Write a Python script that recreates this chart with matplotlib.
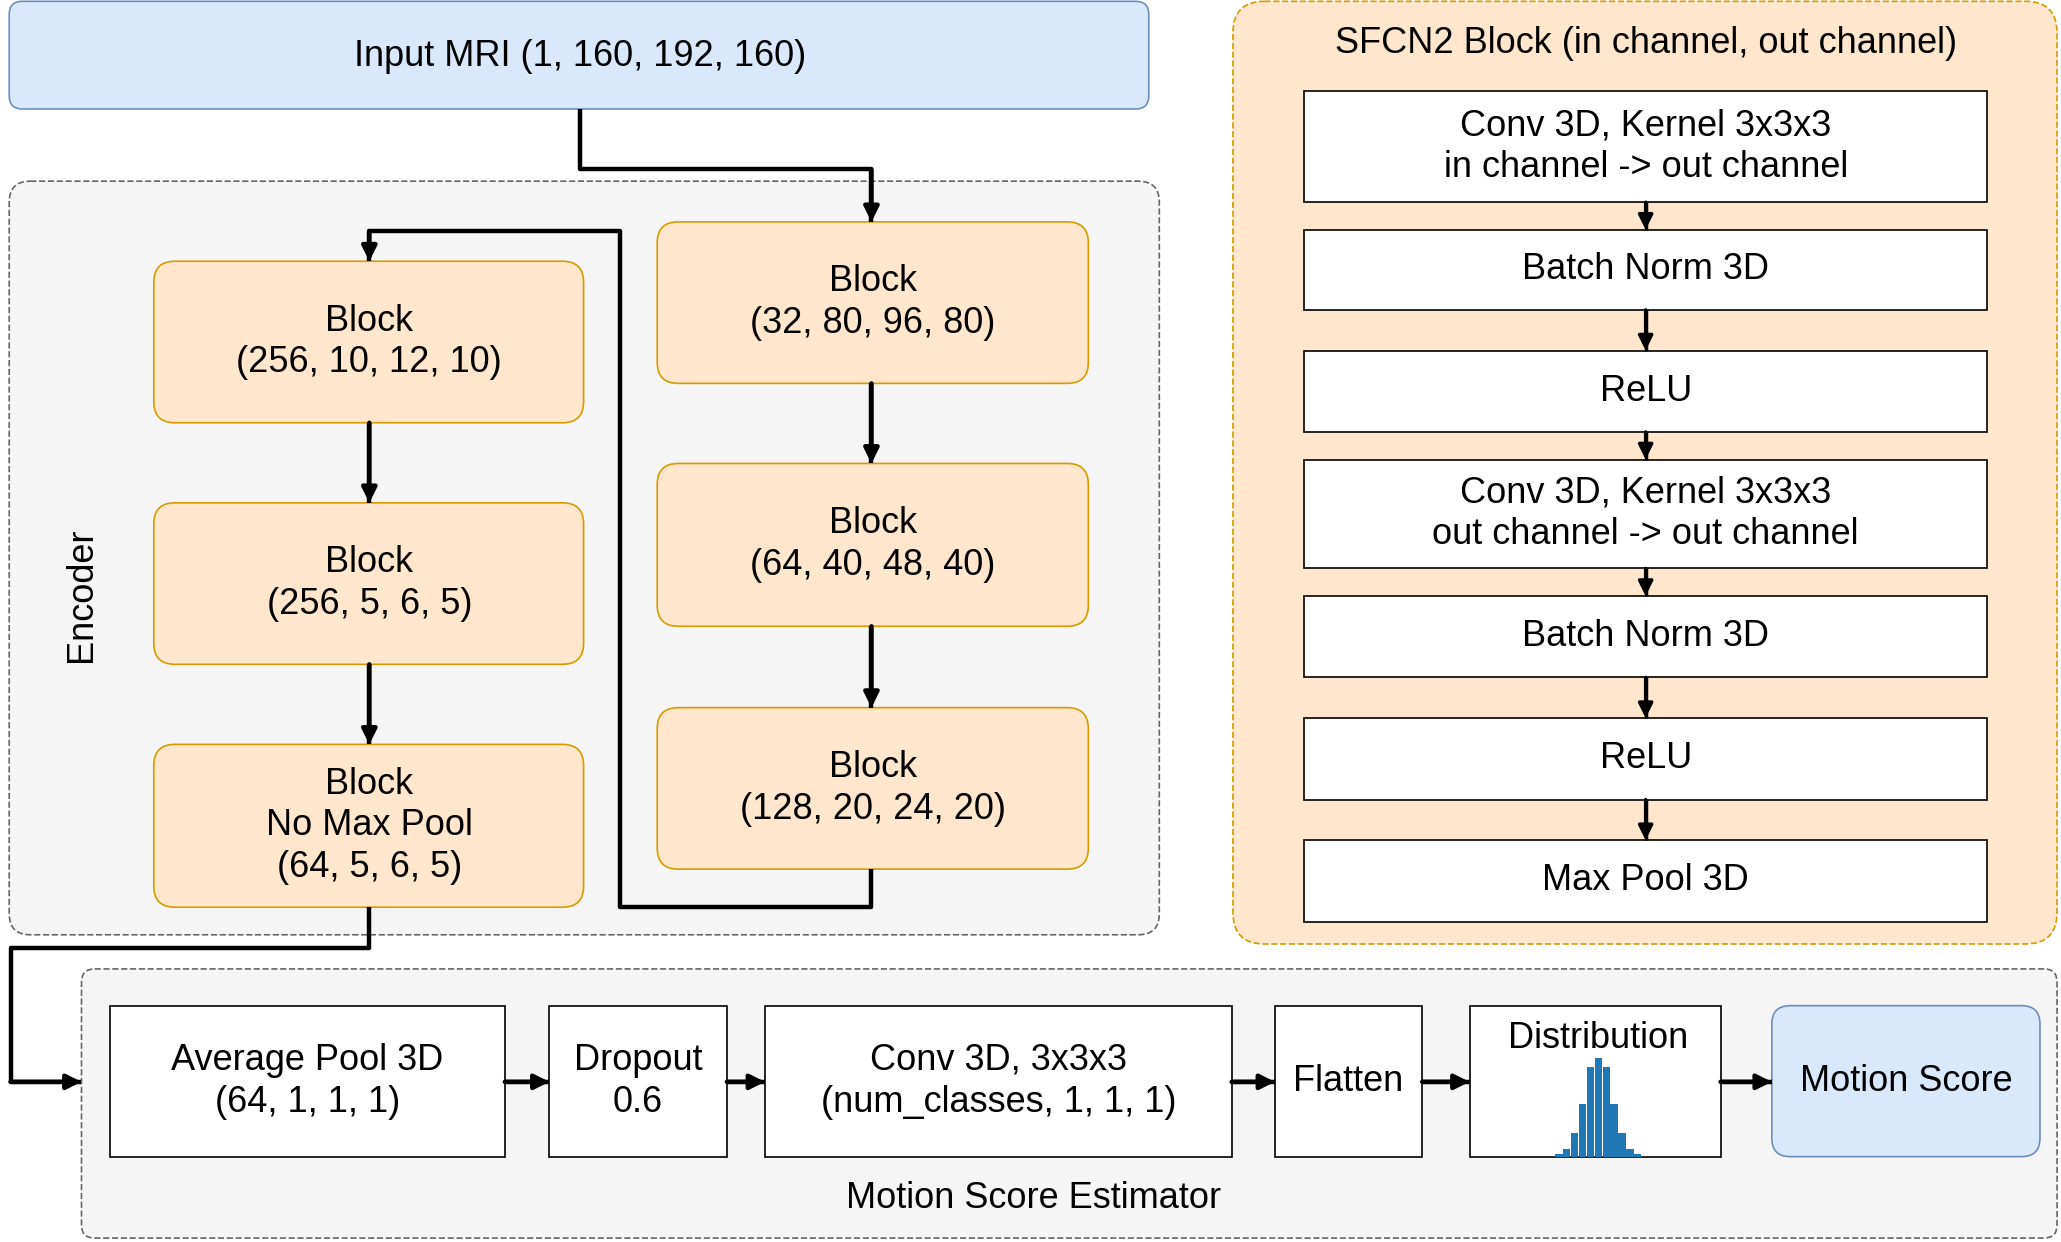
import matplotlib.pyplot as plt
from matplotlib.patches import FancyBboxPatch, Rectangle

plt.rcParams['font.family'] = ['Liberation Sans', 'DejaVu Sans']

input_label = "Input MRI (1, 160, 192, 160)"
left_blocks = ["Block\n(256, 10, 12, 10)", "Block\n(256, 5, 6, 5)", "Block\nNo Max Pool\n(64, 5, 6, 5)"]
right_blocks = ["Block\n(32, 80, 96, 80)", "Block\n(64, 40, 48, 40)", "Block\n(128, 20, 24, 20)"]
estimator_steps = ["Average Pool 3D\n(64, 1, 1, 1)", "Dropout\n0.6", "Conv 3D, 3x3x3\n(num_classes, 1, 1, 1)", "Flatten"]
sfcn_steps = ["Conv 3D, Kernel 3x3x3\nin channel -> out channel", "Batch Norm 3D", "ReLU",
              "Conv 3D, Kernel 3x3x3\nout channel -> out channel", "Batch Norm 3D", "ReLU", "Max Pool 3D"]
dist_values = [2, 6, 18, 40, 68, 75, 68, 40, 18, 6, 2]

FS = 26
BLUE, BLUE_E = '#dae8fc', '#6c8ebf'
ORANGE, ORANGE_E = '#ffe6cc', '#d79b00'
GREY, GREY_E = '#f5f5f5', '#666666'

fig = plt.figure(figsize=(20.61, 12.42), dpi=100)
ax = fig.add_axes([0, 0, 1, 1])
ax.set_xlim(0, 1568)
ax.set_ylim(946, 0)
ax.axis('off')


def rbox(x0, y0, x1, y1, fc, ec, r=14, ls='-', lw=1.2, z=1):
    ax.add_patch(FancyBboxPatch((x0 + r, y0 + r), x1 - x0 - 2 * r, y1 - y0 - 2 * r,
                                boxstyle=f"round,pad={r}", fc=fc, ec=ec, ls=ls, lw=lw, zorder=z))


def sbox(x0, y0, x1, y1, text, dy=0):
    ax.add_patch(Rectangle((x0, y0), x1 - x0, y1 - y0, fc='white', ec='black', lw=1.2, zorder=3))
    if text:
        ax.text((x0 + x1) / 2, (y0 + y1) / 2 + dy, text, ha='center', va='center',
                fontsize=FS, zorder=4, linespacing=1.25)


def path(pts, lw=3.2):
    xs, ys = zip(*pts)
    ax.plot(xs[:-1] + (xs[-1],), ys, color='black', lw=lw, zorder=5, solid_capstyle='butt')
    ax.annotate('', xy=pts[-1], xytext=pts[-2],
                arrowprops=dict(arrowstyle='-|>', color='black', lw=lw, mutation_scale=22,
                                shrinkA=0, shrinkB=0), zorder=6)


# containers
rbox(7, 1, 874, 83, BLUE, BLUE_E, r=10)
ax.text(441, 43, input_label, ha='center', va='center', fontsize=FS)
rbox(7, 138, 882, 712, GREY, GREY_E, r=16, ls='--')
ax.text(62, 453, "Encoder", rotation=90, ha='center', va='center', fontsize=FS)
rbox(62, 738, 1565, 943, GREY, GREY_E, r=10, ls='--')
ax.text(786, 913, "Motion Score Estimator", ha='center', va='center', fontsize=FS)
rbox(938, 1, 1565, 719, ORANGE, ORANGE_E, r=24, ls='--')
ax.text(1252, 33, "SFCN2 Block (in channel, out channel)", ha='center', va='center', fontsize=FS)

# encoder blocks
for lab, (y0, y1) in zip(left_blocks, [(199, 322), (383, 506), (567, 691)]):
    rbox(117, y0, 444, y1, ORANGE, ORANGE_E, r=16, z=2)
    ax.text(281, (y0 + y1) / 2, lab, ha='center', va='center', fontsize=FS, linespacing=1.25, zorder=3)
for lab, (y0, y1) in zip(right_blocks, [(169, 292), (353, 477), (539, 662)]):
    rbox(500, y0, 828, y1, ORANGE, ORANGE_E, r=16, z=2)
    ax.text(664, (y0 + y1) / 2, lab, ha='center', va='center', fontsize=FS, linespacing=1.25, zorder=3)

path([(441, 83), (441, 129), (663, 129), (663, 169)])
path([(663, 292), (663, 353)])
path([(663, 477), (663, 539)])
path([(663, 662), (663, 691), (472, 691), (472, 176), (281, 176), (281, 199)])
path([(281, 322), (281, 383)])
path([(281, 506), (281, 567)])
path([(281, 691), (281, 722), (8, 722), (8, 824), (62, 824)])

# estimator
est_x = [(84, 384), (418, 553), (582, 937), (970, 1082)]
for lab, (x0, x1) in zip(estimator_steps, est_x):
    sbox(x0, 766, x1, 881, lab)
sbox(1118, 766, 1309, 881, None)
ax.text(1216, 791, "Distribution", ha='center', va='center', fontsize=FS, zorder=4)
bw = 6
xs = [1216 + (i - len(dist_values) // 2) * bw for i in range(len(dist_values))]
ax.bar(xs, [-v for v in dist_values], bottom=881, width=bw * 0.92, color='#1f77b4', zorder=4)
rbox(1348, 766, 1552, 881, BLUE, BLUE_E, r=14, z=3)
ax.text(1450, 824, "Motion Score", ha='center', va='center', fontsize=FS, zorder=4)
for a, b in [(384, 418), (553, 582), (937, 970), (1082, 1118), (1309, 1348)]:
    path([(a, 824), (b, 824)])

# SFCN2 block
sf_y = [(69, 154), (175, 236), (267, 329), (350, 433), (454, 516), (547, 609), (640, 702)]
for lab, (y0, y1) in zip(sfcn_steps, sf_y):
    sbox(992, y0, 1512, y1, lab)
for (a0, a1), (b0, b1) in zip(sf_y[:-1], sf_y[1:]):
    path([(1252, a1), (1252, b0)], lw=2.5)

fig.savefig('out.png', dpi=100)
